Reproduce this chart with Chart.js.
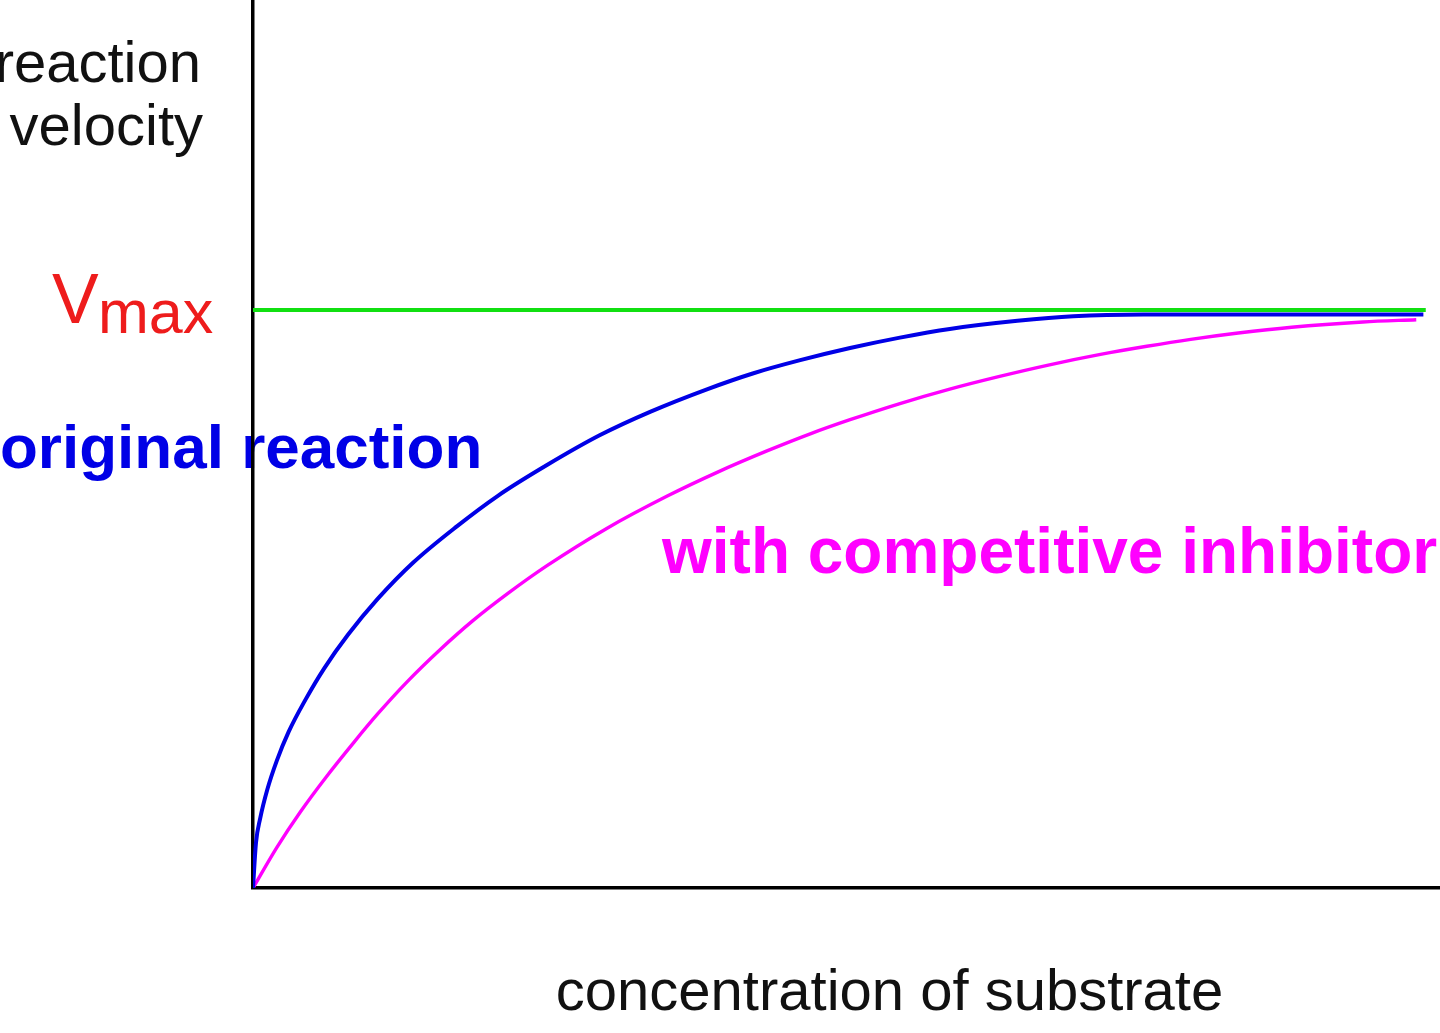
<!DOCTYPE html>
<html>
<head>
<meta charset="utf-8">
<script src="https://cdn.jsdelivr.net/npm/chart.js@4/dist/chart.umd.min.js"></script>
<style>
  html, body { margin: 0; padding: 0; background: #fff; overflow: hidden; }
  #wrap { width: 1440px; height: 1033px; position: relative; }
</style>
</head>
<body>
<div id="wrap"><canvas id="mmChart"></canvas></div>
<script>
// substrate concentration (0..100 across the axis), velocity in % of Vmax
var vmax = 100;
var vmaxLineX = [0, 98.8];

var originalX = [0, 0.25, 0.6, 1.2, 2, 3, 4.4, 6, 8, 10.5, 13.5, 17.2, 20.6, 24.8, 29.2, 33.5, 38.3,
    42.1, 46.1, 50.3, 54.5, 58.7, 64.4, 69.1, 75, 98.6];
var originalY = [0, 7.8, 12, 17, 22, 27, 32.5, 38, 43.8, 50, 56.3, 62.6, 67.8, 73.2, 78.3, 82.4, 86.3,
    89, 91.3, 93.4, 95.2, 96.7, 98.1, 98.9, 99.2, 99.2];

var inhibitorX = [0, 2, 4, 6.2, 8.5, 10.5, 13, 15.8, 18.5, 21.5, 24.8, 29.8, 34.9, 39.1, 43.3, 47,
    50.3, 54.5, 58.7, 62.9, 67.1, 71.4, 75.3, 79, 83, 87.5, 93.5, 98];
var inhibitorY = [0, 7.0, 13.2, 19.3, 25.2, 30.1, 35.7, 41.3, 46.2, 51.0, 55.8, 62.2, 67.8, 71.9, 75.6, 78.6,
    81.0, 83.8, 86.3, 88.5, 90.5, 92.3, 93.7, 94.9, 96.0, 97.0, 97.9, 98.3];

function toPoints(xs, ys) {
    return xs.map(function (x, i) { return { x: x, y: ys[i] }; });
}

// labels drawn before the scales so the axis line sits on top of them
var labelPlugin = {
    id: 'labels',
    beforeDraw: function (chart) {
        var c = chart.ctx;
        var area = chart.chartArea;
        var yV = chart.scales.y.getPixelForValue(vmax);
        c.save();
        c.textBaseline = 'alphabetic';

        c.fillStyle = '#111';
        c.font = '58px "Liberation Sans", Arial, sans-serif';
        c.textAlign = 'right';
        c.fillText('reaction', 201, 82);
        c.fillText('velocity', 203, 145);

        c.fillStyle = '#ee1c1c';
        c.textAlign = 'left';
        c.font = '70px "Liberation Sans", Arial, sans-serif';
        c.fillText('V', 52, yV + 13);
        c.font = '61px "Liberation Sans", Arial, sans-serif';
        c.fillText('max', 98, yV + 23);

        c.fillStyle = '#0000e6';
        c.font = 'bold 62px "Liberation Sans", Arial, sans-serif';
        c.fillText('original reaction', 0, 468);

        c.fillStyle = '#ff00ff';
        c.font = 'bold 64px "Liberation Sans", Arial, sans-serif';
        c.fillText('with competitive inhibitor', 662, 573);

        c.fillStyle = '#111';
        c.font = '58px "Liberation Sans", Arial, sans-serif';
        c.textAlign = 'center';
        c.fillText('concentration of substrate', (area.left + area.right) / 2 + 43, area.bottom + 122);
        c.restore();
    }
};

var ctx = document.getElementById('mmChart').getContext('2d');
var myChart = new Chart(ctx, {
    type: 'line',
    data: {
        datasets: [
            {
                label: 'Vmax',
                data: toPoints(vmaxLineX, [vmax, vmax]),
                borderColor: '#11e011',
                borderWidth: 4,
                order: 3
            },
            {
                label: 'original reaction',
                data: toPoints(originalX, originalY),
                borderColor: '#0000e6',
                borderWidth: 4,
                cubicInterpolationMode: 'monotone',
                order: 1
            },
            {
                label: 'with competitive inhibitor',
                data: toPoints(inhibitorX, inhibitorY),
                borderColor: '#ff00ff',
                borderWidth: 3.4,
                cubicInterpolationMode: 'monotone',
                order: 2
            }
        ]
    },
    options: {
        responsive: true,
        maintainAspectRatio: false,
        animation: false,
        events: [],
        layout: { padding: { left: 253, right: 0, top: 0, bottom: 145 } },
        elements: { point: { radius: 0 } },
        plugins: { legend: { display: false }, tooltip: { enabled: false } },
        scales: {
            x: {
                type: 'linear',
                min: 0,
                max: 100,
                ticks: { display: false },
                grid: { display: false, drawTicks: false, tickLength: 0 },
                border: { display: true, color: '#000', width: 3.5 }
            },
            y: {
                type: 'linear',
                min: 0,
                max: 153.6,
                ticks: { display: false },
                grid: { display: false, drawTicks: false, tickLength: 0 },
                border: { display: true, color: '#000', width: 3.5 }
            }
        }
    },
    plugins: [labelPlugin]
});
</script>
</body>
</html>
